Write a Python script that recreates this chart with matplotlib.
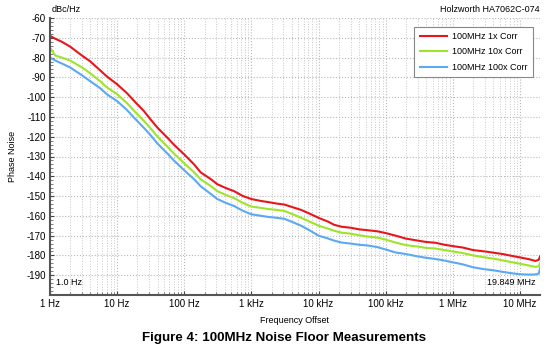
import numpy as np
import matplotlib.pyplot as plt
from matplotlib.ticker import FixedLocator, MultipleLocator, LogLocator, NullFormatter

# Частоти зміщення, Гц
freq = [1, 1.2, 1.5, 2, 3, 4, 5.6, 7, 10, 14, 18, 25, 31, 40, 56, 70, 100, 140, 175, 250,
        310, 420, 550, 750, 1000, 1400, 1750, 2400, 3100, 4000, 5500, 7500, 10e3, 14e3, 17e3,
        22e3, 30e3, 40e3, 55e3, 75e3, 100e3, 140e3, 200e3, 300e3, 400e3, 550e3, 750e3, 1e6,
        1.4e6, 2e6, 3e6, 4e6, 5.5e6, 7.5e6, 1e7, 1.4e7, 1.7e7, 1.9e7, 19.849e6]

# Фазовий шум, dBc/Hz
corr_1x = [-69, -70.5, -72, -74.5, -79, -82, -86.5, -89.5, -93.5, -98, -102, -107, -111, -115.5,
           -120.5, -124, -129, -134, -138, -141.5, -144, -146, -147.5, -150, -151.5, -152.5,
           -153, -153.8, -154.3, -155.5, -157, -159, -161, -163, -164.5, -165.5, -166, -166.8,
           -167.3, -167.8, -168.7, -170, -171.5, -172.5, -173.2, -173.6, -174.6, -175.3, -176,
           -177.3, -178, -178.6, -179.3, -180.2, -181, -182, -182.8, -182.2, -180.5]
corr_10x = [-75, -79, -80, -81.5, -85, -88, -92, -95, -98.5, -103, -107, -112, -115.5, -120,
            -125, -128.5, -133.5, -138, -141.5, -145, -147.5, -149.5, -151, -153.5, -155.3,
            -156, -156.5, -157, -157.5, -159, -161, -163, -165, -166.5, -167.5, -168.5, -169,
            -169.8, -170.5, -171, -172, -173.5, -174.8, -175.5, -176.2, -176.5, -177.3, -178,
            -178.8, -180, -181, -181.6, -182.5, -183.4, -184.2, -185.2, -185.8, -185.5, -184]
corr_100x = [-80, -81.5, -83, -85, -89, -92, -95.5, -98.5, -102, -106.5, -110.5, -115.5, -119,
             -123.5, -128.5, -132, -137, -141.5, -145, -149, -151.5, -153.5, -155, -157.5,
             -159.2, -160, -160.5, -161, -161.5, -163, -165, -167.5, -170, -171.5, -172.5,
             -173.5, -174, -174.6, -175, -175.8, -177, -178.5, -179.3, -180.5, -181.2, -181.8,
             -182.6, -183.5, -184.5, -186, -187, -187.5, -188.3, -189, -189.5, -189.7, -189.6,
             -189.2, -186.5]

labels = ["100MHz 1x Corr", "100MHz 10x Corr", "100MHz 100x Corr"]
colors = ["#e8161b", "#9ee42a", "#5aa9f2"]

x_ticks = [1, 10, 100, 1e3, 1e4, 1e5, 1e6, 1e7]
x_ticklabels = ["1 Hz", "10 Hz", "100 Hz", "1 kHz", "10 kHz", "100 kHz", "1 MHz", "10 MHz"]
y_ticks = list(range(-60, -191, -10))

plt.rcParams['font.family'] = ['Liberation Sans', 'DejaVu Sans']
plt.rcParams['axes.unicode_minus'] = False

fig = plt.figure(figsize=(5.51, 3.51), dpi=100)
ax = fig.add_axes([50 / 551, 1 - 295 / 351, 490 / 551, 277 / 351])

for y, lab, c in zip([corr_1x, corr_10x, corr_100x], labels, colors):
    ax.plot(freq, y, color=c, lw=1.5, label=lab)

ax.set_xscale('log')
ax.set_xlim(1, 19.849e6)
ax.set_ylim(-200, -60)

ax.xaxis.set_major_locator(FixedLocator(x_ticks))
ax.set_xticklabels(x_ticklabels)
ax.xaxis.set_minor_locator(LogLocator(base=10, subs=np.arange(2, 10), numticks=20))
ax.xaxis.set_minor_formatter(NullFormatter())
ax.yaxis.set_major_locator(FixedLocator(y_ticks))
ax.yaxis.set_minor_locator(MultipleLocator(2))

ax.tick_params(axis='both', which='major', labelsize=7, length=3, direction='in',
               color='#444444', pad=3)
ax.tick_params(axis='both', which='minor', length=2, direction='in', color='#666666')

ax.grid(True, which='major', color='#b8b8b8', ls=':', lw=0.8)
ax.grid(True, which='minor', axis='x', color='#c8c8c8', ls=':', lw=0.7)

for s in ['top', 'right']:
    ax.spines[s].set_visible(False)
for s in ['left', 'bottom']:
    ax.spines[s].set_color('#555555')
    ax.spines[s].set_linewidth(1.5)

ax.set_ylabel("Phase Noise", fontsize=6.5, labelpad=7)
ax.set_xlabel("Frequency Offset", fontsize=6.5, labelpad=5)

leg = ax.legend(loc='upper right', bbox_to_anchor=(0.99, 0.975), fontsize=6.5,
                fancybox=False, edgecolor='#888888', framealpha=1, handlelength=3.0,
                handletextpad=0.6, borderpad=0.6, labelspacing=0.7, borderaxespad=0.2)
leg.get_frame().set_linewidth(0.8)

ax.text(0.012, 0.03, "1.0 Hz", transform=ax.transAxes, fontsize=6.5, ha='left', va='bottom')
ax.text(0.99, 0.03, "19.849 MHz", transform=ax.transAxes, fontsize=6.5, ha='right', va='bottom')

fig.text(52 / 551, 1 - 10 / 351, "dBc/Hz", fontsize=6.5, ha='left', va='center')
fig.text(540 / 551, 1 - 10 / 351, "Holzworth HA7062C-074", fontsize=6.5, ha='right', va='center')
fig.text(284 / 551, 1 - 338 / 351, "Figure 4: 100MHz Noise Floor Measurements",
         fontsize=9.6, fontweight='bold', ha='center', va='center')

fig.savefig("out.png", dpi=100)
